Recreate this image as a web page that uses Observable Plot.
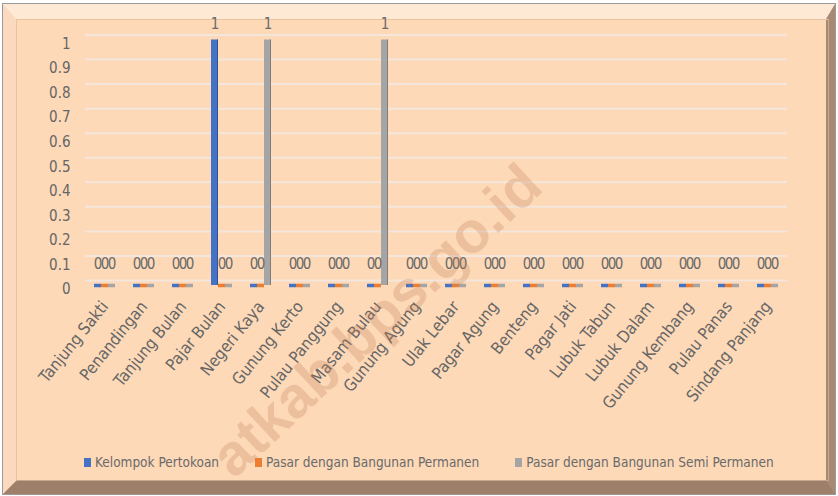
<!DOCTYPE html>
<html>
<head>
<meta charset="utf-8">
<script src="https://cdn.jsdelivr.net/npm/d3@7"></script>
<script src="https://cdn.jsdelivr.net/npm/@observablehq/plot@0.6"></script>
<style>
  html, body { margin: 0; padding: 0; background: #ffffff; }
  #wrap { position: relative; width: 838px; height: 496px; overflow: hidden; font-family: "DejaVu Sans Condensed", "DejaVu Sans", sans-serif; }
  #outer { position: absolute; left: 2px; top: 3px; width: 834px; height: 492px; box-sizing: border-box; border: 1px solid #9a9a9a; }
  #bevel { position: absolute; left: 3px; top: 4px; width: 832px; height: 490px; box-sizing: border-box;
           border-style: solid; border-width: 15px 9px 13px 13px;
           border-color: #FEE9D4 #A88A74 #9E7F69 #FAD9BE; background: #FDD9B8; }
  #panel { position: absolute; left: 16px; top: 19px; width: 813px; height: 462px; box-sizing: border-box;
           border: 1px solid #E8C3A3; border-right-color: #C8A68C; border-bottom-color: #C8A68C; }
  #chart { position: absolute; left: 0; top: 0; }
  #legend { position: absolute; left: 84px; top: 454px; display: flex; gap: 36px; align-items: center;
            font-size: 13.5px; color: #6a6a6a; white-space: nowrap; }
  #legend .item { display: flex; align-items: center; }
  #legend .sw { width: 7px; height: 9px; margin-right: 4px; }
  #wm { position: absolute; left: 236px; top: 436px; transform-origin: 0 100%; transform: rotate(-43deg);
        font-family: "Liberation Sans", sans-serif; font-weight: bold; font-size: 58px; line-height: 46px;
        color: rgba(195, 125, 85, 0.27); white-space: nowrap; pointer-events: none; }
</style>
</head>
<body>
<div id="wrap">
  <div id="outer"></div>
  <div id="bevel"></div>
  <div id="panel"></div>
  <div id="chart"></div>
  <div id="legend"></div>
  <div id="wm">atkab.bps.go.id</div>
</div>
<script>
const categories = ["Tanjung Sakti", "Penandingan", "Tanjung Bulan", "Pajar Bulan", "Negeri Kaya",
  "Gunung Kerto", "Pulau Panggung", "Masam Bulau", "Gunung Agung", "Ulak Lebar", "Pagar Agung",
  "Benteng", "Pagar Jati", "Lubuk Tabun", "Lubuk Dalam", "Gunung Kembang", "Pulau Panas", "Sindang Panjang"];
const series = ["Kelompok Pertokoan", "Pasar dengan Bangunan Permanen", "Pasar dengan Bangunan Semi Permanen"];
const kelompokPertokoan = [0, 0, 0, 1, 0, 0, 0, 0, 0, 0, 0, 0, 0, 0, 0, 0, 0, 0];
const pasarPermanen     = [0, 0, 0, 0, 0, 0, 0, 0, 0, 0, 0, 0, 0, 0, 0, 0, 0, 0];
const pasarSemiPermanen = [0, 0, 0, 0, 1, 0, 0, 1, 0, 0, 0, 0, 0, 0, 0, 0, 0, 0];
const yTicks = [0, 0.1, 0.2, 0.3, 0.4, 0.5, 0.6, 0.7, 0.8, 0.9, 1];
const colors = ["#4472C4", "#ED7D31", "#A5A5A5"];
const sideColors = ["#2F539A", "#B85E22", "#7E7E7E"];

const values = [kelompokPertokoan, pasarPermanen, pasarSemiPermanen];
const data = categories.flatMap((c, i) => series.map((s, j) => ({category: c, series: s, value: values[j][i]})));
const zeros = data.filter(d => d.value === 0);
const nonzero = data.filter(d => d.value !== 0);

const chart = Plot.plot({
  width: 838,
  height: 440,
  marginLeft: 81,
  marginRight: 47,
  marginTop: 39.5,
  marginBottom: 155,
  style: {background: "transparent", fontFamily: "'DejaVu Sans Condensed', 'DejaVu Sans', sans-serif", color: "#666666", overflow: "visible"},
  fx: {domain: categories, padding: 0, label: null},
  x: {domain: series, paddingInner: 0, paddingOuter: 0.96, axis: null},
  y: {domain: [0, 1], label: null},
  color: {domain: series, range: colors},
  marks: [
    Plot.ruleY(yTicks, {y: d => d, stroke: "#F4E6DA", strokeWidth: 2, dy: -5}),
    Plot.axisY(yTicks, {tickSize: 0, tickPadding: 15, fontSize: 15, dy: 4, tickFormat: d => String(d), label: null}),
    Plot.axisFx({anchor: "bottom", tickSize: 0, tickPadding: 18, tickRotate: -51, fontSize: 16.5, label: null}),
    Plot.tickY(zeros, {fx: "category", x: "series", y: "value", stroke: "series", strokeWidth: 3.5}),
    Plot.barY(nonzero, {fx: "category", x: "series", y: "value", fill: "series"}),
    Plot.barY(nonzero, {fx: "category", x: "series", y: "value", fill: d => sideColors[series.indexOf(d.series)], insetLeft: 6}),
    Plot.text(zeros, {fx: "category", x: "series", y: "value", text: d => String(d.value), dy: -21, fontSize: 15, fill: "#6a6a6a"}),
    Plot.text(nonzero, {fx: "category", x: "series", y: "value", text: d => String(d.value), dy: -16, fontSize: 15, fill: "#6a6a6a"})
  ]
});
document.getElementById("chart").appendChild(chart);

const legend = document.getElementById("legend");
series.forEach((s, i) => {
  const item = document.createElement("div");
  item.className = "item";
  const sw = document.createElement("span");
  sw.className = "sw";
  sw.style.background = colors[i];
  const label = document.createElement("span");
  label.textContent = s;
  item.appendChild(sw);
  item.appendChild(label);
  legend.appendChild(item);
});
</script>
</body>
</html>
